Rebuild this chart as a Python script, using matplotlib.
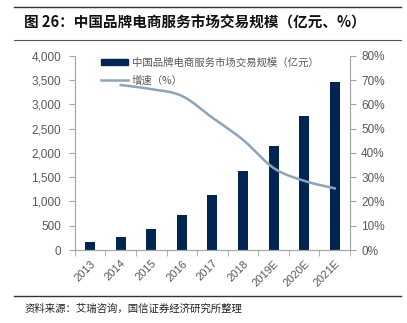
import matplotlib
matplotlib.use('Agg')
import matplotlib.pyplot as plt
import numpy as np
from matplotlib.lines import Line2D
from matplotlib.patches import Patch

plt.rcParams['font.family'] = ['Liberation Sans', 'Noto Sans CJK SC', 'DejaVu Sans']

# Data
years = ['2013', '2014', '2015', '2016', '2017', '2018', '2019E', '2020E', '2021E']
scale = [160, 264, 437, 715, 1125, 1625, 2144, 2763, 3470]
growth_years = ['2014', '2015', '2016', '2017', '2018', '2019E', '2020E', '2021E']
growth = [68.0, 66.3, 63.5, 54.5, 45.4, 33.8, 28.5, 25.4]

bar_color = '#002552'
line_color = '#8da3b9'
axis_gray = '#a6a6a6'
text_gray = '#595959'


def smooth(xs, ys, n=20):
    # Catmull-Rom curve through the points, only for drawing
    xs = np.asarray(xs, float)
    ys = np.asarray(ys, float)
    px = np.concatenate([[2 * xs[0] - xs[1]], xs, [2 * xs[-1] - xs[-2]]])
    py = np.concatenate([[2 * ys[0] - ys[1]], ys, [2 * ys[-1] - ys[-2]]])
    out_x, out_y = [], []
    for i in range(1, len(px) - 2):
        t = np.linspace(0, 1, n, endpoint=False)
        for p, out in ((px, out_x), (py, out_y)):
            p0, p1, p2, p3 = p[i - 1], p[i], p[i + 1], p[i + 2]
            out.extend(0.5 * (2 * p1 + (-p0 + p2) * t + (2 * p0 - 5 * p1 + 4 * p2 - p3) * t ** 2
                              + (-p0 + 3 * p1 - 3 * p2 + p3) * t ** 3))
    out_x.append(xs[-1])
    out_y.append(ys[-1])
    return out_x, out_y


fig = plt.figure(figsize=(4.07, 3.23), dpi=100)
ax = fig.add_axes([0.184, 0.226, 0.676, 0.601])
ax2 = ax.twinx()

x = np.arange(len(years))
ax.bar(x, scale, width=0.33, color=bar_color, zorder=2)

gx = [years.index(y) for y in growth_years]
sx, sy = smooth(gx, growth)
ax2.plot(sx, sy, color=line_color, linewidth=1.8, zorder=3)

ax.set_xlim(-0.5, len(years) - 0.5)
ax.set_ylim(0, 4000)
ax2.set_ylim(0, 80)
ax.set_yticks(np.arange(0, 4001, 500))
ax.set_yticklabels([f'{v:,}' for v in range(0, 4001, 500)])
ax2.set_yticks(np.arange(0, 81, 10))
ax2.set_yticklabels([f'{v}%' for v in range(0, 81, 10)])

ax.set_xticks(x)
ax.set_xticklabels(years, rotation=45, ha='right', rotation_mode='anchor')
ax.set_xticks(np.arange(-0.5, len(years), 1), minor=True)
ax.tick_params(axis='x', which='major', length=0, pad=6, labelsize=8, labelcolor=text_gray)
ax.tick_params(axis='x', which='minor', length=4, color=axis_gray)
ax.tick_params(axis='y', length=4, color=axis_gray, labelsize=8.5, labelcolor=text_gray, pad=6)
ax2.tick_params(axis='y', length=4, color=axis_gray, labelsize=8.5, labelcolor=text_gray, pad=4)

for a in (ax, ax2):
    a.spines['top'].set_visible(False)
    for s in ('left', 'right', 'bottom'):
        a.spines[s].set_color(axis_gray)

handles = [Patch(color=bar_color), Line2D([0], [0], color=line_color, linewidth=1.8)]
labels = ['中国品牌电商服务市场交易规模（亿元）', '增速（%）']
leg = ax.legend(handles, labels, loc='upper left', bbox_to_anchor=(0.06, 1.04), frameon=False,
                prop={'family': ['Noto Sans CJK SC'], 'size': 7.5}, handlelength=2.6,
                handleheight=0.5, labelspacing=0.7, handletextpad=0.4)
for t in leg.get_texts():
    t.set_color(text_gray)

# Title and source with rules
fig.add_artist(Line2D([0.035, 0.985], [1 - 7 / 323, 1 - 7 / 323], color='#333333', linewidth=1))
fig.add_artist(Line2D([0.035, 0.985], [1 - 40 / 323, 1 - 40 / 323], color='#555555', linewidth=0.8))
fig.text(0.06, 1 - 23 / 323, '图 26：中国品牌电商服务市场交易规模（亿元、%）', fontsize=10.5,
         fontweight='bold', va='center', family=['Noto Sans CJK SC'], color='#111111')
fig.add_artist(Line2D([0.035, 0.985], [1 - 296 / 323, 1 - 296 / 323], color='#333333', linewidth=1))
fig.text(0.06, 1 - 309 / 323, '资料来源：艾瑞咨询，国信证券经济研究所整理', fontsize=7.5,
         va='center', family=['Noto Sans CJK SC'], color='#222222')

fig.savefig('out.png', dpi=100)
